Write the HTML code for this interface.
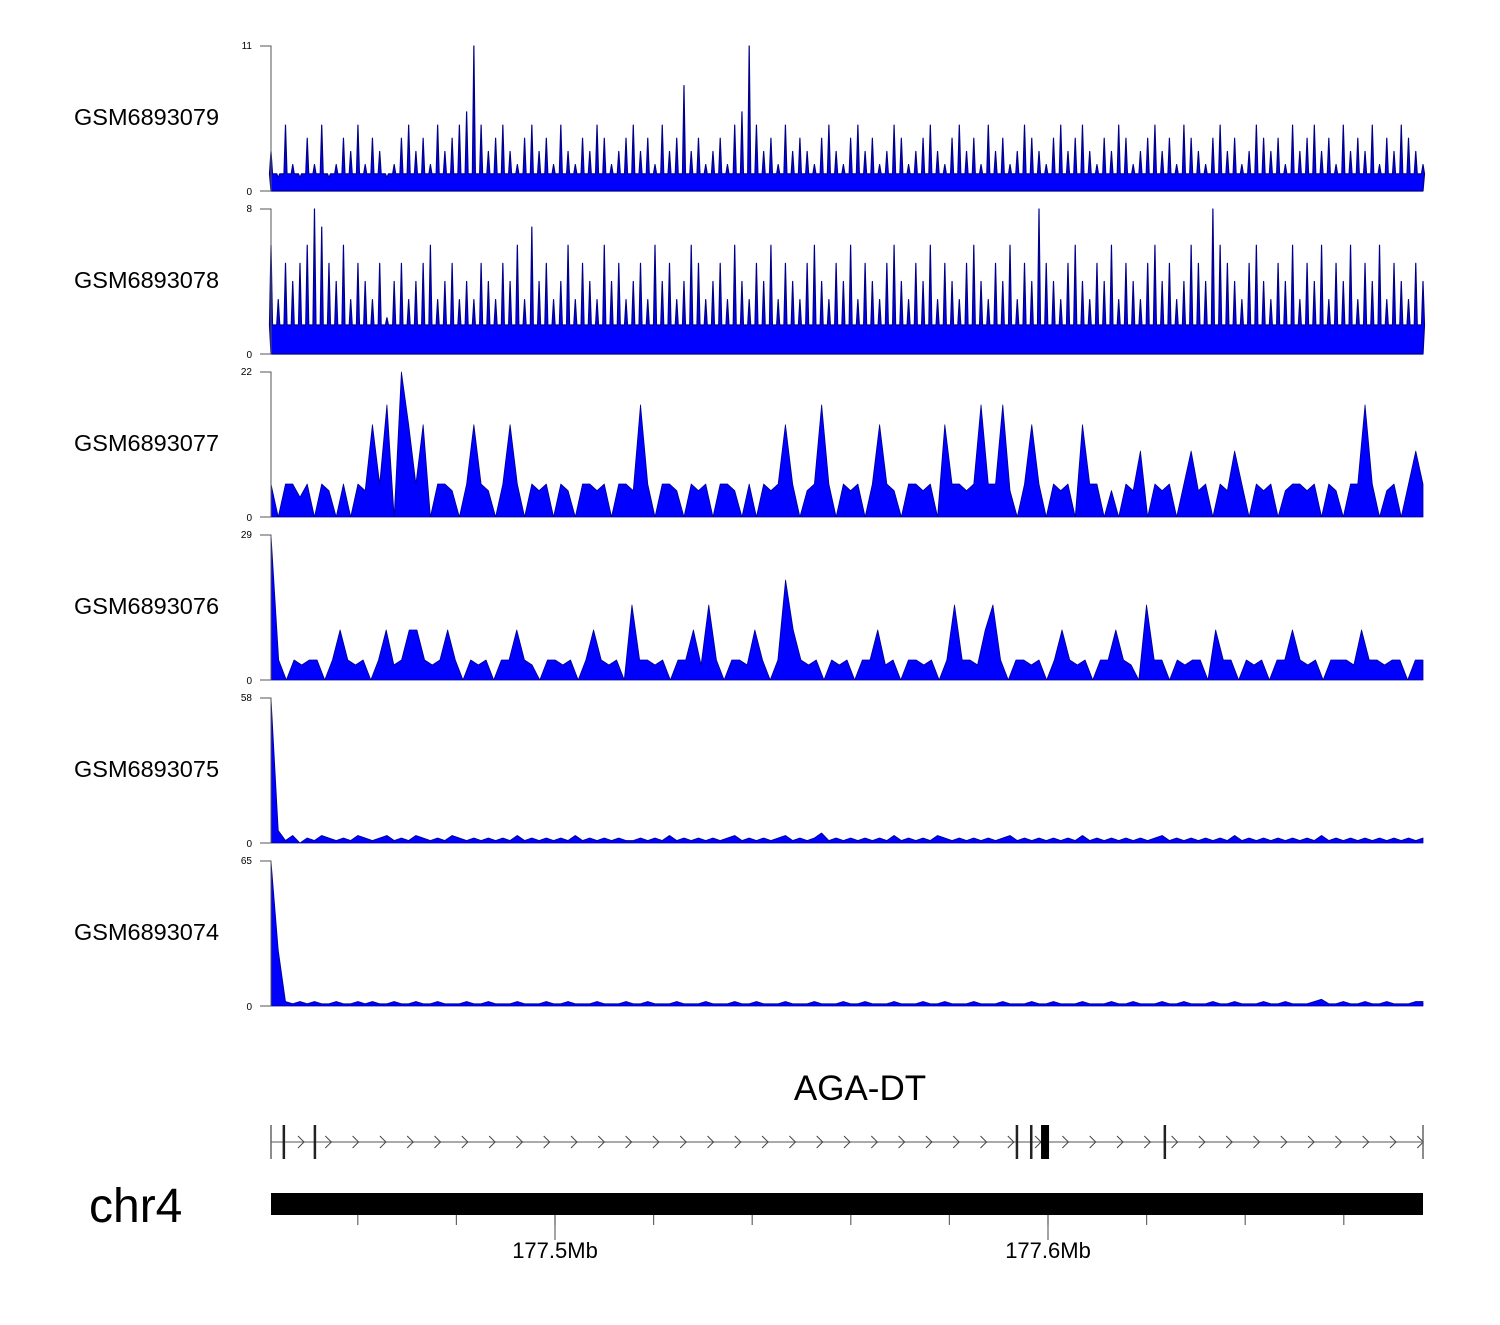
<!DOCTYPE html>
<html><head><meta charset="utf-8"><style>
body{margin:0;background:#fff;}
svg text{font-family:"Liberation Sans",sans-serif;}
</style></head><body>
<svg id="chart" width="1500" height="1320" viewBox="0 0 1500 1320" xmlns="http://www.w3.org/2000/svg"></svg>
<script>
const sampleNames = ["GSM6893079","GSM6893078","GSM6893077","GSM6893076","GSM6893075","GSM6893074"];
const yMax = [11, 8, 22, 29, 58, 65];
const baseLevel = [1.3, 1.6, 0, 0, 0, 0];
const series0 = [3,1,5,2,1,4,2,5,1,2, 4,3,5,2,4,3,1,2,4,5, 3,4,2,5,3,4,5,6,11,5, 3,4,5,3,2,4,5,3,4,2, 5,3,2,4,3,5,4,2,3,4, 5,3,4,2,5,3,4,8,3,4, 2,3,4,2,5,6,11,5,3,4, 2,5,3,4,3,2,4,5,3,2, 4,5,3,4,2,3,5,4,2,3, 4,5,3,2,4,5,3,4,2,5, 3,4,2,3,5,4,3,2,4,5, 3,4,5,3,2,4,3,5,4,2, 3,4,5,3,4,2,5,4,3,2, 4,5,3,4,2,3,5,4,3,4, 2,5,3,4,5,3,4,2,5,3, 4,3,5,2,4,3,5,4,3,2];
const series1 = [6,3,5,4,5,6,8,7,5,4, 6,3,5,4,3,5,2,4,5,3, 4,5,6,3,4,5,3,4,3,5, 4,3,5,4,6,3,7,4,5,3, 4,6,3,5,4,3,6,4,5,3, 4,5,3,6,4,5,3,4,6,5, 3,4,5,3,6,4,3,5,4,6, 3,5,4,3,5,6,4,3,5,4, 6,3,5,4,3,5,6,4,3,5, 4,6,3,5,4,3,5,6,4,3, 5,4,6,3,5,4,8,5,4,3, 5,6,4,3,5,4,6,3,5,4, 3,5,6,4,5,3,4,6,5,4, 8,6,5,4,3,5,6,4,3,5, 4,6,3,5,4,6,3,5,4,6, 3,5,4,6,3,5,4,3,5,4];
const series2 = [5,0,5,5,3,5,0,5,4,0, 5,0,5,4,14,5,17,0,22,14, 5,14,0,5,5,4,0,5,14,5, 4,0,5,14,5,0,5,4,5,0, 5,4,0,5,5,4,5,0,5,5, 4,17,5,0,5,5,4,0,5,4, 5,0,5,5,4,0,5,0,5,4, 5,14,5,0,4,5,17,5,0,5, 4,5,0,5,14,5,4,0,5,5, 4,5,0,14,5,5,4,5,17,5, 5,17,4,0,5,14,5,0,5,4, 5,0,14,5,5,0,4,0,5,4, 10,0,5,4,5,0,5,10,4,5, 0,5,4,10,5,0,5,4,5,0, 4,5,5,4,5,0,5,4,0,5, 5,17,5,0,4,5,0,5,10,5];
const series3 = [29,4,0,4,3,4,4,0,4,10,4, 3,4,0,4,10,3,4,10,10,4, 3,4,10,4,0,4,3,4,0,4, 4,10,4,3,0,4,4,3,4,0, 4,10,4,3,4,0,15,4,4,3, 4,0,4,4,10,3,15,4,0,4, 4,3,10,4,0,4,20,10,4,3, 4,0,4,3,4,0,4,4,10,3, 4,0,4,4,3,4,0,4,15,4, 4,3,10,15,4,0,4,4,3,4, 0,4,10,4,3,4,0,4,4,10, 4,3,0,15,4,4,0,4,3,4, 4,0,10,4,4,0,4,3,4,0, 4,4,10,4,3,4,0,4,4,4, 3,10,4,4,3,4,4,0,4,4];
const series4 = [58,5,1,3,0,2,1,3,2,1, 2,1,3,2,1,2,3,1,2,1, 3,2,1,2,1,3,2,1,2,1, 2,1,2,1,3,1,2,1,2,1, 2,1,3,1,2,1,2,1,2,1, 1,2,1,2,1,3,1,2,1,2, 1,2,1,2,3,1,2,1,2,1, 2,3,1,2,1,2,4,1,2,1, 2,1,2,1,2,1,3,1,2,1, 2,1,3,2,1,2,1,2,1,2, 1,2,3,1,2,1,2,1,2,1, 2,1,3,1,2,1,2,1,2,1, 2,1,2,3,1,2,1,2,1,2, 1,2,1,3,1,2,1,2,1,2, 1,2,1,2,1,3,1,2,1,2, 1,2,1,2,1,2,1,2,1,2];
const series5 = [65,25,2,1,2,1,2,1,1,2, 1,1,2,1,2,1,1,2,1,1, 2,1,1,2,1,1,1,2,1,1, 2,1,1,1,2,1,1,1,2,1, 1,2,1,1,1,2,1,1,1,2, 1,1,2,1,1,1,2,1,1,1, 2,1,1,1,2,1,1,2,1,1, 1,2,1,1,1,2,1,1,1,2, 1,1,2,1,1,1,2,1,1,1, 2,1,1,2,1,1,1,2,1,1, 1,2,1,1,1,2,1,1,2,1, 1,1,2,1,1,1,2,1,1,2, 1,1,1,2,1,1,2,1,1,1, 2,1,1,2,1,1,1,2,1,1, 2,1,1,1,2,3,1,1,2,1, 1,2,1,1,2,1,1,1,2,2];
const allSeries = [series0,series1,series2,series3,series4,series5];
const spikeStyle = [true,true,false,false,false,false];
const axisTicks = ["177.5Mb","177.6Mb"];
const axisTickPos = [177.5, 177.6];
const minorTicks = [177.46,177.48,177.5,177.52,177.54,177.56,177.58,177.6,177.62,177.64,177.66];
const exonStarts = [177.4450, 177.4513, 177.5937, 177.5966, 177.5994, 177.6237];

const NS="http://www.w3.org/2000/svg";
const svg=document.getElementById('chart');
function mk(tag,attrs,parent){const e=document.createElementNS(NS,tag);for(const k in attrs)e.setAttribute(k,attrs[k]);(parent||svg).appendChild(e);return e;}
const X0=271, X1=1423;
const gx = v => 555 + (v-177.5)*(1048-555)/0.1;

allSeries.forEach((vals,t)=>{
  const top=46+t*163, bot=191+t*163;
  const g=mk('g',{});
  
  
  const y=v=>bot-(v/yMax[t])*(bot-top);
  const xs=i=>X0+i*(X1-X0)/(vals.length-1);
  const lab=mk('text',{x:74,y:top+79,'font-size':23.5,fill:'#000'},g);
  lab.textContent=sampleNames[t];
  
  
  let d='M'+X0+','+bot;
  if(spikeStyle[t]){
    const b=y(baseLevel[t]);
    vals.forEach((v,i)=>{const x=xs(i);d+=' L'+(x-1.5)+','+b+' L'+x+','+y(v)+' L'+(x+1.5)+','+b;});
  } else {
    vals.forEach((v,i)=>{d+=' L'+xs(i)+','+y(v);});
  }
  d+=' L'+X1+','+bot+' Z';
  const p=mk('path',{d:d,fill:'#0000ff',stroke:'#00008b','stroke-width':spikeStyle[t]?1.2:0.8,'stroke-linejoin':'round'},g);
  
  
  const ax=mk('path',{d:`M260,${top} H271 V${bot} H260`,fill:'none',stroke:'#555','stroke-width':1},g);
  
  
  const t1=mk('text',{x:252,y:top+3,'font-size':10,'text-anchor':'end',fill:'#000'},g);t1.textContent=yMax[t];
  
  
  const t0=mk('text',{x:252,y:bot+4,'font-size':10,'text-anchor':'end',fill:'#000'},g);t0.textContent='0';
  
  
});

const gg=mk('g',{});


const gl=mk('text',{x:860,y:1100,'font-size':35,'text-anchor':'middle',fill:'#000'},gg);gl.textContent='AGA-DT';


mk('line',{x1:X0,x2:X1,y1:1142,y2:1142,stroke:'#777','stroke-width':1.2},gg);
for(let x=298;x<X1;x+=27.3){mk('path',{d:`M${x},1136 L${x+6},1142 L${x},1148`,fill:'none',stroke:'#444','stroke-width':1},gg);}
[271,1423].forEach(x=>mk('line',{x1:x,x2:x,y1:1125,y2:1159,stroke:'#666','stroke-width':1.5},gg));
exonStarts.forEach((v,i)=>{
  const w = i===4?8:2.5;
  const r=mk('rect',{x:gx(v)-w/2,y:1125,width:w,height:34,fill:i===4?'#000':'#222'},gg);
  
  
});

const cl=mk('text',{x:89,y:1222,'font-size':48,fill:'#000'});cl.textContent='chr4';


const bar=mk('rect',{x:X0,y:1193,width:X1-X0,height:22,fill:'#000'});


minorTicks.forEach(v=>{mk('line',{x1:gx(v),x2:gx(v),y1:1215,y2:1225,stroke:'#666','stroke-width':1.2});});
axisTickPos.forEach((v,i)=>{
  mk('line',{x1:gx(v),x2:gx(v),y1:1215,y2:1240,stroke:'#666','stroke-width':1.2});
  const t=mk('text',{x:gx(v),y:1258,'font-size':22,'text-anchor':'middle',fill:'#000'});t.textContent=axisTicks[i];
  
  
});
</script>
</body></html>
